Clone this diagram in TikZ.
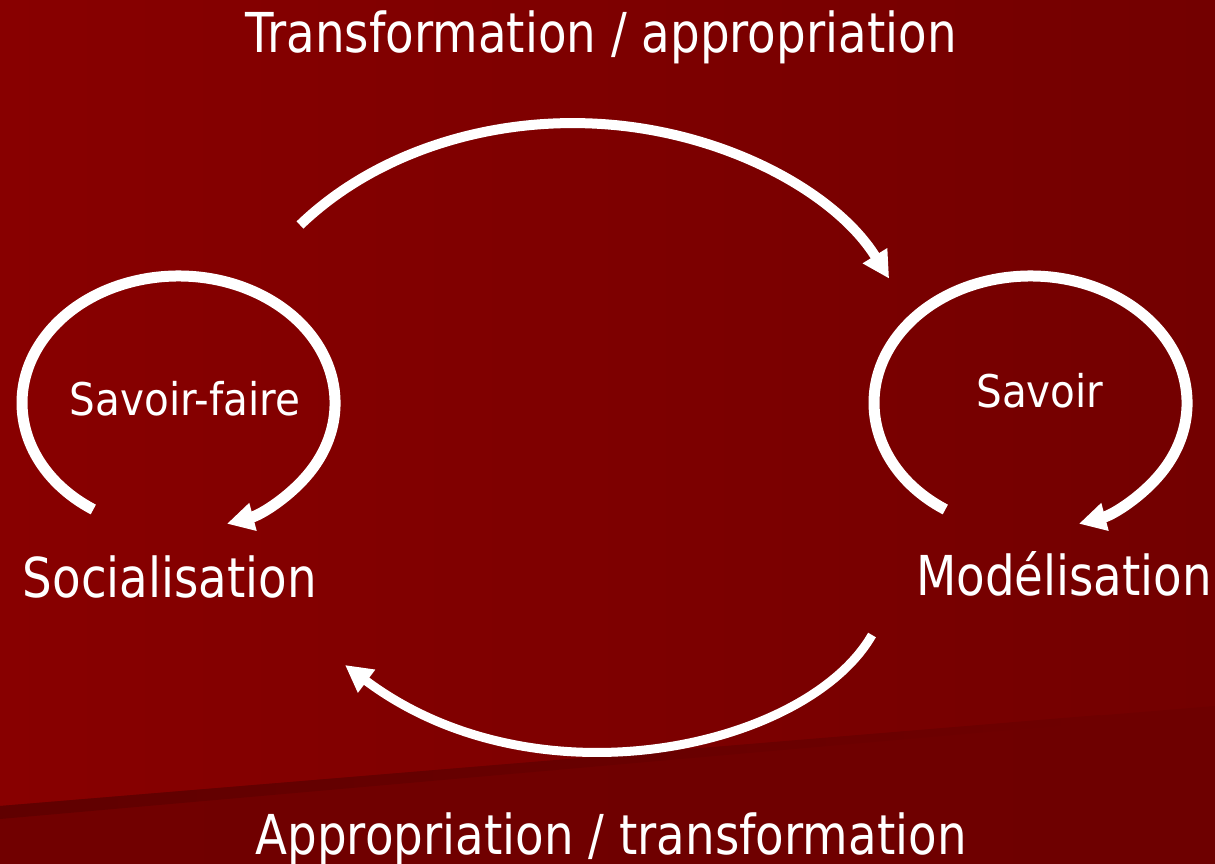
\documentclass[tikz,border=0pt]{standalone}
\usepackage{fontspec}
\newfontfamily\tf[FakeStretch=0.85]{DejaVu Sans}
\newfontfamily\tfs[FakeStretch=0.9]{DejaVu Sans}
\usetikzlibrary{arrows.meta}
\definecolor{bgL}{RGB}{136,0,0}
\definecolor{bgR}{RGB}{115,0,0}
\definecolor{bandL}{RGB}{113,0,0}
\definecolor{bandR}{RGB}{110,0,0}
\definecolor{stripe}{RGB}{96,0,0}
\begin{document}
\begin{tikzpicture}[x=1pt,y=-1pt,
  flow/.style={draw=white,line width=10pt,-{Triangle[length=27pt,width=27pt]}},
  big/.style={text=white,font=\tf\fontsize{55}{60}\selectfont,anchor=base,inner sep=0pt},
  small/.style={text=white,font=\tfs\fontsize{45}{50}\selectfont,anchor=base,inner sep=0pt}]
\useasboundingbox (0,0) rectangle (1215,864);
% background
\shade[left color=bgL,right color=bgR] (0,0) rectangle (1215,864);
\shade[left color=bandL,right color=bandR] (0,806) -- (1215,706) -- (1215,864) -- (0,864) -- cycle;
\shade[left color=stripe,right color=bandR] (0,806) -- (1100,715) -- (1100,722) -- (0,819) -- cycle;
% texts
\node[big] (title) at (601,53) {Transformation / appropriation};
\node[big] (bottom) at (611,854) {Appropriation / transformation};
\node[big] (soc) at (170,597) {Socialisation};
\node[big] (mod) at (1064,595) {Modélisation};
\node[small] (sf) at (185,415) {Savoir-faire};
\node[small] (sav) at (1040,407) {Savoir};
% loops
\coordinate (ls) at (93.3,509.5);
\draw[flow,line width=11pt] (ls) arc[start angle=123,end angle=432,x radius=156.5,y radius=127];
\coordinate (rs) at (945.3,509.5);
\draw[flow,line width=11pt] (rs) arc[start angle=123,end angle=432,x radius=156.5,y radius=127];
% top arc
\coordinate (ts) at (300,225);
\draw[flow] (ts) arc[start angle=-140.8,end angle=-26,x radius=352,y radius=277];
% bottom arc
\coordinate (bs) at (872,635);
\coordinate (be) at (345,665);
\draw[flow,line width=9pt] (bs) .. controls (807,748) and (537,809) .. (be);
\end{tikzpicture}
\end{document}
